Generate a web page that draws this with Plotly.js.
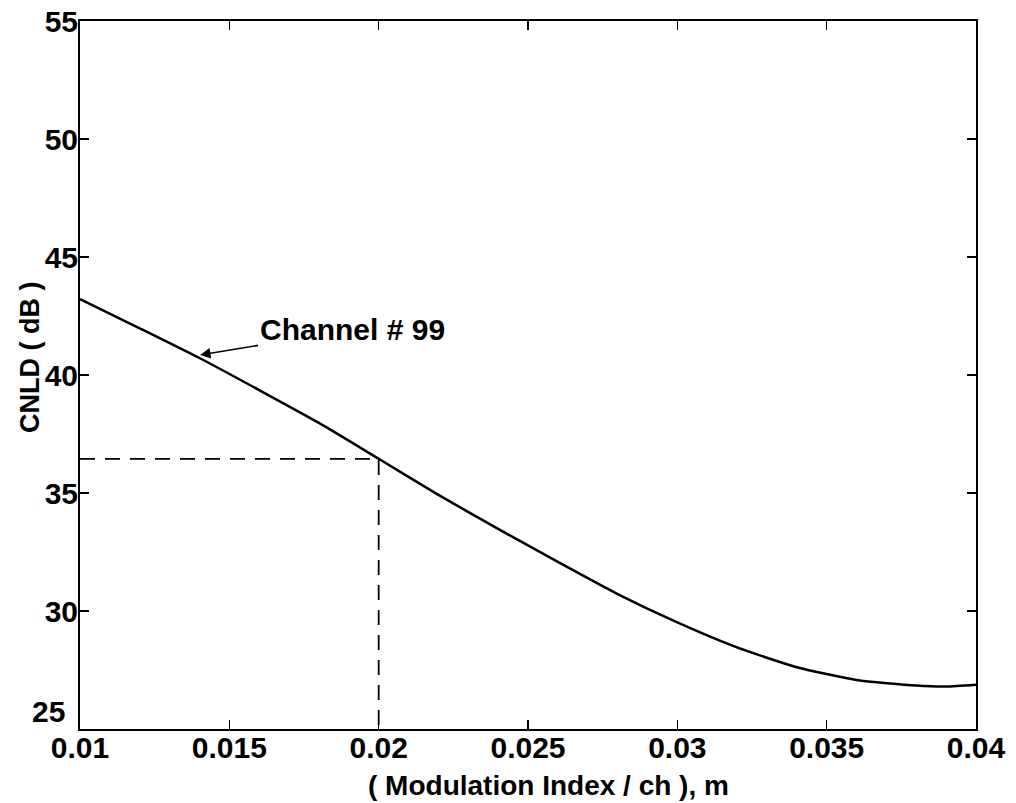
<!DOCTYPE html>
<html>
<head>
<meta charset="utf-8">
<script src="https://cdn.plot.ly/plotly-3.0.1.min.js"></script>
<style>html,body{margin:0;padding:0;background:#fff;}#chart{width:1016px;height:803px;}</style>
</head>
<body>
<div id="chart"></div>
<script>
// Curve: CNLD vs modulation index per channel (Channel # 99)
var modIndex = [0.010, 0.012, 0.014, 0.016, 0.018, 0.020, 0.022, 0.024, 0.025, 0.026, 0.028, 0.030, 0.032, 0.034, 0.036, 0.038, 0.039, 0.040];
var cnld     = [43.22, 41.98, 40.72, 39.36, 37.97, 36.45, 34.92, 33.48, 32.78, 32.08, 30.72, 29.52, 28.46, 27.62, 27.08, 26.84, 26.80, 26.88];

// Reference (dashed) read-off at m = 0.02
var refX = [0.010, 0.020, 0.020];
var refY = [36.45, 36.45, 25];

var xTicks = [0.01, 0.015, 0.02, 0.025, 0.03, 0.035, 0.04];
var xTickText = ['0.01', '0.015', '0.02', '0.025', '0.03', '0.035', '0.04'];
var yTicks = [25, 30, 35, 40, 45, 50, 55];
var yTickText = ['', '30', '35', '40', '45', '50', '55'];
var yBottomLabel = '25';

var xTitle = '( Modulation Index / ch ), m';
var yTitle = 'CNLD ( dB )';
var labelText = 'Channel # 99';
var labelPointX = 0.01402;
var labelPointY = 40.85;

var FONT = '"Liberation Sans", Arial, Helvetica, sans-serif';
var BOLD = {family: FONT, color: '#000', weight: 'bold'};
function f(size) { return Object.assign({}, BOLD, {size: size}); }

var traces = [
  {x: modIndex, y: cnld, mode: 'lines', line: {color: '#000', width: 2.5, shape: 'spline', smoothing: 0.6}, hoverinfo: 'skip'},
  {x: refX, y: refY, mode: 'lines', line: {color: '#000', width: 1.8, dash: '15px,10px'}, hoverinfo: 'skip'}
];

var axisCommon = {
  showgrid: false, zeroline: false, showline: true, linecolor: '#000', linewidth: 2,
  mirror: 'ticks', ticks: 'inside', ticklen: 9, tickwidth: 1.5, tickcolor: '#000',
  tickfont: f(30)
};

var layout = {
  width: 1016, height: 803,
  margin: {l: 80, r: 40, t: 21, b: 74},
  paper_bgcolor: '#fff', plot_bgcolor: '#fff',
  showlegend: false,
  xaxis: Object.assign({}, axisCommon, {
    range: [0.01, 0.04], tickvals: xTicks, ticktext: xTickText, ticklabelstandoff: -9
  }),
  yaxis: Object.assign({}, axisCommon, {
    range: [25, 55], tickvals: yTicks, ticktext: yTickText, ticklabelstandoff: -6
  }),
  annotations: [
    {
      x: labelPointX, y: labelPointY, xref: 'x', yref: 'y',
      text: labelText, showarrow: true, arrowhead: 2, arrowsize: 1.3, arrowwidth: 1.6, arrowcolor: '#000',
      ax: 152, ay: -25, standoff: 0, font: f(30)
    },
    {
      x: -0.0156, y: 25, xref: 'paper', yref: 'y', xanchor: 'right', yanchor: 'bottom',
      text: yBottomLabel, showarrow: false, font: f(30), borderpad: 0
    },
    {
      x: 0.5234, y: 1, xref: 'paper', yref: 'paper', yanchor: 'bottom', xanchor: 'center',
      yshift: -803 + 21 + 1, text: xTitle, showarrow: false, font: f(28), borderpad: 0
    },
    {
      x: -0.0558, y: 0.524, xref: 'paper', yref: 'paper', xanchor: 'center', yanchor: 'middle',
      text: yTitle, textangle: -90, showarrow: false, font: f(27)
    }
  ]
};

Plotly.newPlot('chart', traces, layout, {displayModeBar: false, staticPlot: true});
</script>
</body>
</html>
